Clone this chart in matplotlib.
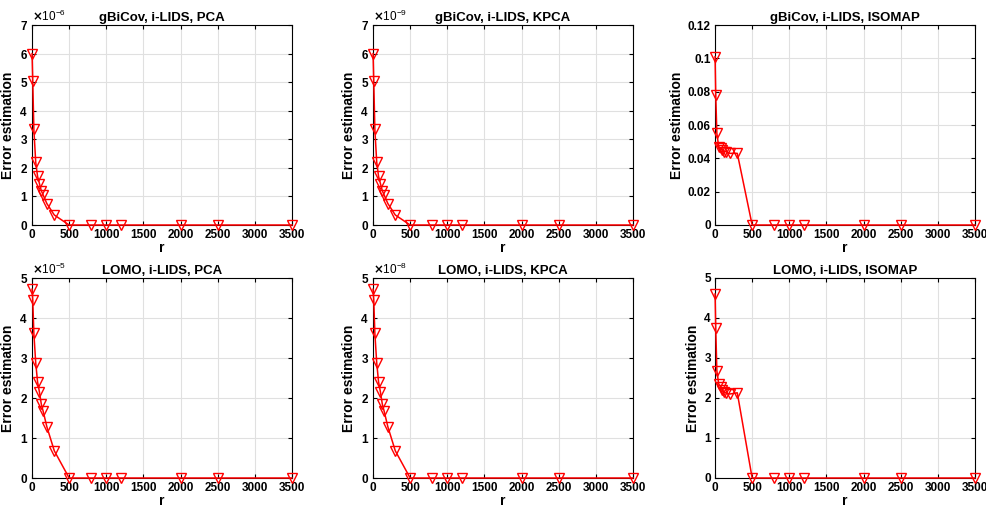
import numpy as np
import matplotlib.pyplot as plt
from matplotlib.ticker import ScalarFormatter

plt.rcParams["font.family"] = ["Liberation Sans", "DejaVu Sans"]
plt.rcParams["font.weight"] = "bold"
plt.rcParams["axes.titleweight"] = "bold"
plt.rcParams["axes.labelweight"] = "bold"

r = [1, 10, 25, 50, 75, 100, 125, 150, 200, 300, 500, 800, 1000, 1200, 2000, 2500, 3500]

# gBiCov curves
gbicov_pca = [6.0, 5.05, 3.35, 2.2, 1.7, 1.45, 1.2, 1.05, 0.75, 0.35, 0, 0, 0, 0, 0, 0, 0]  # x1e-6
gbicov_kpca = [6.0, 5.05, 3.35, 2.2, 1.7, 1.45, 1.2, 1.05, 0.75, 0.35, 0, 0, 0, 0, 0, 0, 0]  # x1e-9
gbicov_isomap = [0.101, 0.078, 0.055, 0.047, 0.046, 0.045, 0.044, 0.044, 0.043, 0.043,
                 0, 0, 0, 0, 0, 0, 0]

# LOMO curves
lomo_pca = [4.72, 4.45, 3.62, 2.88, 2.4, 2.15, 1.85, 1.67, 1.28, 0.68, 0, 0, 0, 0, 0, 0, 0]  # x1e-5
lomo_kpca = [4.72, 4.45, 3.62, 2.88, 2.4, 2.15, 1.85, 1.67, 1.28, 0.68, 0, 0, 0, 0, 0, 0, 0]  # x1e-8
lomo_isomap = [4.6, 3.75, 2.68, 2.35, 2.28, 2.2, 2.15, 2.12, 2.1, 2.13, 0, 0, 0, 0, 0, 0, 0]

panels = [
    ("gBiCov, i-LIDS, PCA", gbicov_pca, 1e-6, 7, 1),
    ("gBiCov, i-LIDS, KPCA", gbicov_kpca, 1e-9, 7, 1),
    ("gBiCov, i-LIDS, ISOMAP", gbicov_isomap, 1, 0.12, 0.02),
    ("LOMO, i-LIDS, PCA", lomo_pca, 1e-5, 5, 1),
    ("LOMO, i-LIDS, KPCA", lomo_kpca, 1e-8, 5, 1),
    ("LOMO, i-LIDS, ISOMAP", lomo_isomap, 1, 5, 1),
]

W, H = 987, 509
fig = plt.figure(figsize=(W / 100, H / 100), dpi=100)

lefts = [32, 373, 715]
tops = [25, 278]
aw, ah = 260, 200

for i, (title, vals, scale, ymax, ystep) in enumerate(panels):
    row, col = divmod(i, 3)
    ax = fig.add_axes([lefts[col] / W, 1 - (tops[row] + ah) / H, aw / W, ah / H])
    y = np.array(vals) * scale
    ax.plot(r, y, color="red", lw=1.1, marker="v", markersize=7,
            markerfacecolor="none", markeredgecolor="red", markeredgewidth=1.0,
            clip_on=False, zorder=3)
    ax.set_xlim(0, 3500)
    ax.set_ylim(0, ymax * scale)
    ax.set_xticks(np.arange(0, 3501, 500))
    ax.set_yticks(np.arange(0, ymax + ystep / 2, ystep) * scale)
    if scale == 1:
        ax.set_yticklabels([("%g" % v) for v in np.round(np.arange(0, ymax + ystep / 2, ystep), 3)])
    else:
        fmt = ScalarFormatter(useMathText=True)
        fmt.set_powerlimits((0, 0))
        ax.yaxis.set_major_formatter(fmt)
        ax.yaxis.get_offset_text().set_fontsize(8.5)
        ax.yaxis.get_offset_text().set_fontweight("normal")
    ax.grid(True, color="#e0e0e0", lw=0.8)
    ax.set_axisbelow(True)
    ax.tick_params(direction="in", length=3, labelsize=8.5, top=True, right=True, pad=3)
    for lab in ax.get_xticklabels() + ax.get_yticklabels():
        lab.set_fontweight("bold")
    for s in ax.spines.values():
        s.set_linewidth(0.8)
    ax.set_title(title, fontsize=9.5, pad=3)
    ax.set_xlabel("r", fontsize=10, labelpad=0)
    ax.set_ylabel("Error estimation", fontsize=10, labelpad=3)

fig.savefig("out.png", dpi=100)
